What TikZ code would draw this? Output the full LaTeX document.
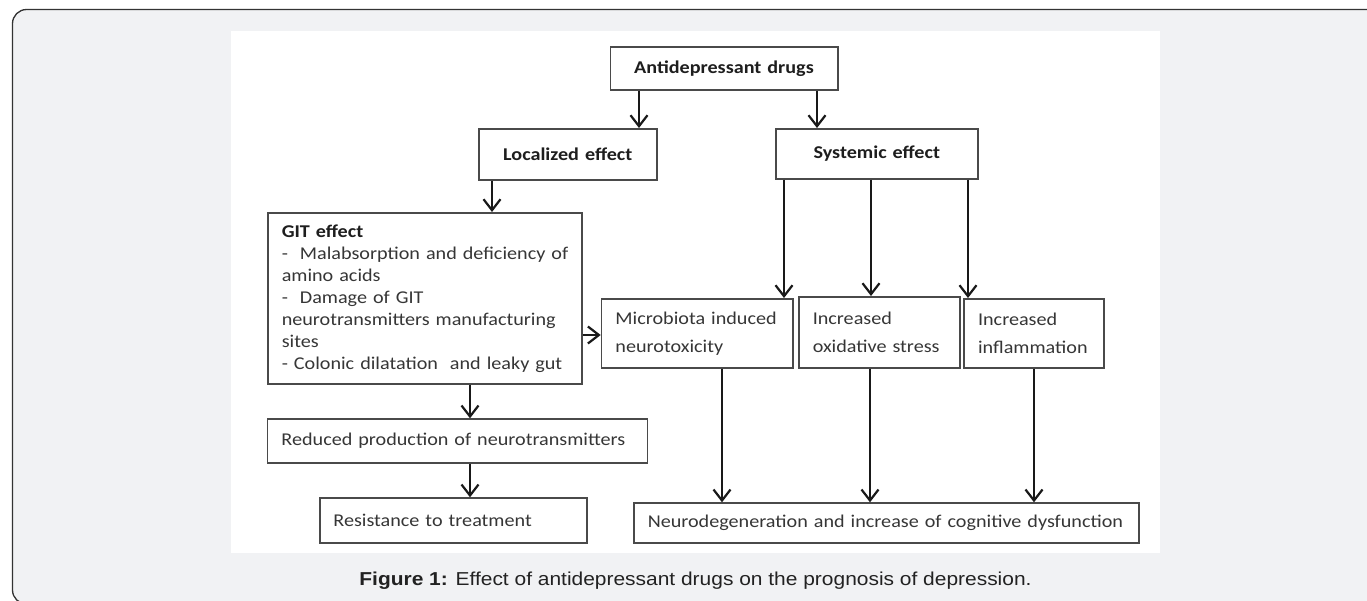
\documentclass[tikz,border=0pt]{standalone}
\usepackage{fontspec}
\setmainfont{Carlito}[FakeStretch=1.12]
\newfontfamily\capfont{Liberation Sans}[FakeStretch=1.12]
\usetikzlibrary{arrows.meta}
\definecolor{panelbg}{HTML}{F1F2F4}
\definecolor{panelline}{HTML}{333333}
\definecolor{boxline}{HTML}{4A4A4A}
\definecolor{bodytext}{HTML}{363636}
\definecolor{headtext}{HTML}{1E1E1E}
\definecolor{captext}{HTML}{222222}
\tikzset{
  box/.style={draw=boxline, line width=1.5pt, fill=white, inner xsep=0pt, inner ysep=0pt,
    anchor=north west, font=\fontsize{18}{22}\selectfont, text=bodytext},
  lbox/.style={box, align=left},
  hbox/.style={box, align=center, font=\fontsize{18}{22}\selectfont\bfseries, text=headtext},
  arr/.style={draw=black!90, line width=2.2pt, -{Straight Barb[length=11pt,width=17pt,line width=2.2pt]}},
}
\begin{document}
\begin{tikzpicture}[x=1pt,y=-1pt]
\useasboundingbox (0,0) rectangle (1367,600);
\clip (0,0) rectangle (1367,600);
\draw[panelline, fill=panelbg, line width=1.3pt, rounded corners=14pt] (12.5,9.5) rectangle (1385,604);
\fill[white] (231,31) rectangle (1160,553);

\node[hbox, minimum width=227.5pt, minimum height=43pt, text width=220pt] (ad) at (609.5,46) {Antidepressant drugs};
\node[hbox, minimum width=178pt, minimum height=51pt, text width=170pt] (loc) at (478,128) {Localized effect};
\node[hbox, minimum width=202pt, minimum height=50pt, text width=194pt] (sys) at (775,128) {Systemic effect};

\node[lbox, minimum width=314pt, minimum height=171pt, text width=286pt] (git) at (267,212)
  {\mbox{\bfseries\color{headtext}GIT effect}\\
   \mbox{-\ \ Malabsorption and deficiency of}\\
   \mbox{amino acids}\\
   \mbox{-\ \ Damage of GIT}\\
   \mbox{neurotransmitters manufacturing}\\
   \mbox{sites}\\
   \mbox{- Colonic dilatation\ \ and leaky gut}};

\node[lbox, minimum width=191.3pt, minimum height=69pt, text width=163.3pt, font=\fontsize{18}{28}\selectfont] (mic) at (600.7,298)
  {\mbox{Microbiota induced}\\\mbox{neurotoxicity}};
\node[lbox, minimum width=161pt, minimum height=71pt, text width=133pt, font=\fontsize{18}{28}\selectfont] (oxi) at (798,296)
  {\mbox{Increased}\\\mbox{oxidative stress}};
\node[lbox, minimum width=140pt, minimum height=69pt, text width=112pt, font=\fontsize{18}{28}\selectfont] (inf) at (963.3,298)
  {\mbox{Increased}\\\mbox{inflammation}};

\node[lbox, minimum width=380pt, minimum height=44pt, text width=352pt] (red) at (266.7,418.3)
  {\mbox{Reduced production of neurotransmitters}};
\node[lbox, minimum width=266.7pt, minimum height=45pt, text width=240pt] (res) at (319.3,497.3)
  {\mbox{Resistance to treatment}};
\node[lbox, minimum width=505.3pt, minimum height=39.7pt, text width=477.3pt] (neu) at (633,502.3)
  {\mbox{Neurodegeneration and increase of cognitive dysfunction}};

\draw[arr] (ad.south -| 639,0) -- (loc.north -| 639,0);
\draw[arr] (ad.south -| 817,0) -- (sys.north -| 817,0);
\draw[arr] (loc.south -| 492,0) -- (git.north -| 492,0);
\draw[arr] (sys.south -| 784,0) -- (mic.north -| 784,0);
\draw[arr] (sys.south -| 871,0) -- (oxi.north -| 871,0);
\draw[arr] (sys.south -| 968,0) -- (inf.north -| 968,0);
\draw[arr] (git.east |- 0,335) -- (mic.west |- 0,335);
\draw[arr] (git.south -| 470,0) -- (red.north -| 470,0);
\draw[arr] (red.south -| 470,0) -- (res.north -| 470,0);
\draw[arr] (mic.south -| 722,0) -- (neu.north -| 722,0);
\draw[arr] (oxi.south -| 870,0) -- (neu.north -| 870,0);
\draw[arr] (inf.south -| 1034,0) -- (neu.north -| 1034,0);

\node[font=\capfont\fontsize{18.7}{22}\selectfont, text=captext, anchor=base] (cap) at (695.5,585.7)
  {\textbf{Figure 1:} Effect of antidepressant drugs on the prognosis of depression.};
\end{tikzpicture}
\end{document}
